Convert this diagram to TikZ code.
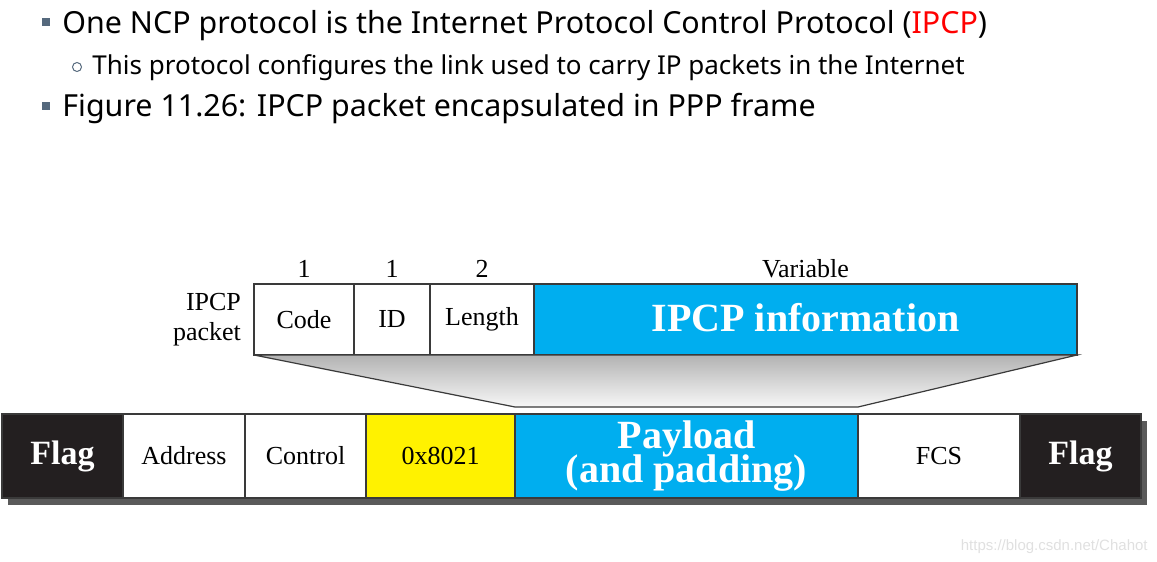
\documentclass[tikz,border=0pt]{standalone}
\usepackage{fontspec}
\setmainfont{Liberation Serif}
\newfontfamily\slidefont{Noto Sans}
\newfontfamily\markfont{Liberation Sans}
\usetikzlibrary{positioning,calc,backgrounds}
\definecolor{ipcpcyan}{HTML}{00AEEF}
\definecolor{protoyellow}{HTML}{FFF200}
\definecolor{flagblack}{HTML}{231F20}
\definecolor{cellline}{HTML}{3A3A3A}
\definecolor{bulletslate}{HTML}{55697D}
\definecolor{framedrop}{HTML}{5A5A5A}

\begin{document}
\begin{tikzpicture}[
  x=0.5pt,y=-0.5pt,
  font=\fontsize{13}{15}\selectfont,
  every node/.style={align=center},
  cell/.style={draw=cellline,line width=0.7pt,fill=white,inner sep=0pt,
               outer sep=0pt,minimum height=35.5pt},
  fcell/.style={cell,minimum height=42pt},
  flagcell/.style={fcell,fill=flagblack,text=white,
                   font=\fontsize{17}{19}\selectfont\bfseries},
  bigwhite/.style={text=white,font=\fontsize{20}{16.5}\selectfont\bfseries},
  num/.style={inner sep=0pt},
  slideA/.style={anchor=base west,inner sep=0pt,
                 font=\slidefont\fontsize{15.2}{18}\selectfont},
  slideB/.style={anchor=base west,inner sep=0pt,
                 font=\slidefont\fontsize{13}{15}\selectfont},
  sqbullet/.style={fill=bulletslate,minimum size=4pt,inner sep=0pt},
  ringbullet/.style={circle,draw=bulletslate,line width=0.5pt,
                     minimum size=4.5pt,inner sep=0pt}
]
\useasboundingbox (0,0) rectangle (1157,562);

% slide text
\node[sqbullet]   (b1) at (46,22) {};
\node[slideA]     (t1) at (62,33) {One NCP protocol is the Internet Protocol Control Protocol (\textcolor{red}{IPCP})};
\node[ringbullet] (b2) at (77,67) {};
\node[slideB]     (t2) at (92,74) {This protocol configures the link used to carry IP packets in the Internet};
\node[sqbullet]   (b3) at (46,106) {};
\node[slideA]     (t3) at (62,116) {Figure 11.26:\hspace{0.35em}IPCP packet encapsulated in PPP frame};

% IPCP packet
\node[cell,minimum width=50pt,anchor=north west] (code) at (254,284) {Code};
\node[cell,minimum width=38pt,right=0pt of code] (id)     {ID};
\node[cell,minimum width=52pt,right=0pt of id]   (len)    {Length};
\node[cell,minimum width=271.5pt,fill=ipcpcyan,bigwhite,right=0pt of len] (info) {\raisebox{2pt}{IPCP information}};

\node[num,above=3pt of code] (ncode) {1};
\node[num,above=3pt of id]   (nid)   {1};
\node[num,above=3pt of len]  (nlen)  {2};
\node[num,above=3pt of info] (ninfo) {Variable};
\node[align=right,font=\fontsize{13}{15}\selectfont,left=3pt of code] (pkt) {IPCP\\packet};

% PPP frame
\node[flagcell,minimum width=60.5pt,anchor=north west] (flagl) at (2,414) {Flag};
\node[fcell,minimum width=61pt,right=0pt of flagl]   (addr) {Address};
\node[fcell,minimum width=60.5pt,right=0pt of addr]  (ctrl) {Control};
\node[fcell,minimum width=74.5pt,fill=protoyellow,right=0pt of ctrl] (proto) {\raisebox{-3pt}{0x8021}};
\node[fcell,minimum width=171.5pt,fill=ipcpcyan,bigwhite,right=0pt of proto] (payload) {Payload\\[-2pt](and padding)};
\node[fcell,minimum width=81pt,right=0pt of payload] (fcs)  {FCS};
\node[flagcell,minimum width=60.5pt,right=0pt of fcs] (flagr) {Flag};

\begin{scope}[on background layer]
  \fill[framedrop] ($(flagl.north west)+(3pt,-3.5pt)$) rectangle ($(flagr.south east)+(3pt,-3.5pt)$);
\end{scope}

% encapsulation wedge
\draw[cellline,line width=0.6pt,top color=black!30,bottom color=black!3]
  (code.south west) -- (info.south east)
  -- ($(payload.north east)+(0,3.5pt)$) -- ($(payload.north west)+(0,3.5pt)$) -- cycle;

\node[anchor=base east,inner sep=0pt,text=black!12,
      font=\markfont\fontsize{7.5}{9}\selectfont] (mark) at (1148,550) {https://blog.csdn.net/Chahot};
\end{tikzpicture}
\end{document}
